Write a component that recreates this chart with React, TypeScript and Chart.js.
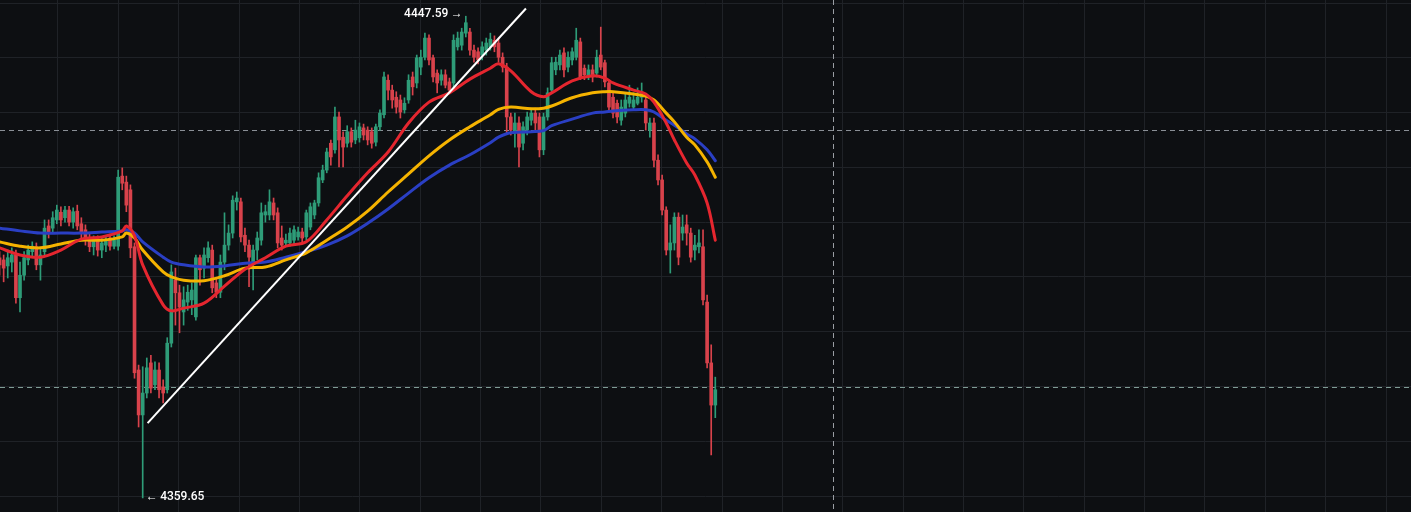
import React, { useEffect, useRef } from "react";
import { Chart, registerables } from "chart.js";

Chart.register(...registerables);

// ---- candle data (index = bar number) ----
const opens = [
  4403.5, 4403.1, 4402.0, 4402.7, 4404.0, 4396.2, 4400.3, 4403.1, 4404.6, 4405.5,
  4402.2, 4404.6, 4409.3, 4408.9, 4410.4, 4411.8, 4410.8, 4412.2, 4410.0, 4412.0,
  4409.7, 4408.6, 4407.1, 4405.5, 4406.7, 4404.9, 4405.8, 4407.1, 4405.6, 4405.6,
  4418.4, 4417.3, 4415.9, 4405.5, 4383.0, 4374.8, 4378.8, 4384.3, 4380.3, 4383.0,
  4379.9, 4379.4, 4387.9, 4399.4, 4397.1, 4393.6, 4395.4, 4395.8, 4392.7, 4403.5,
  4401.6, 4403.5, 4404.9, 4398.9, 4397.2, 4402.7, 4405.8, 4408.0, 4413.7, 4413.7,
  4407.6, 4405.8, 4402.7, 4404.9, 4406.7, 4411.3, 4411.3, 4413.5, 4411.7, 4407.1,
  4406.2, 4406.2, 4406.7, 4407.3, 4408.2, 4407.3, 4409.1, 4411.3, 4413.5, 4417.7,
  4419.5, 4424.4, 4423.2, 4429.2, 4425.5, 4424.4, 4426.5, 4425.0, 4425.4, 4427.2,
  4426.8, 4426.5, 4424.6, 4427.4, 4429.6, 4435.9, 4434.1, 4432.8, 4432.3, 4430.5,
  4432.3, 4436.5, 4435.4, 4438.3, 4440.1, 4443.6, 4440.0, 4437.2, 4435.9, 4436.9,
  4435.6, 4435.4, 4442.0, 4442.3, 4444.5, 4444.7, 4441.4, 4441.1, 4440.5, 4441.4,
  4442.0, 4443.2, 4442.7, 4440.1, 4438.3, 4429.2, 4426.3, 4428.1, 4424.4, 4426.8,
  4428.6, 4429.9, 4429.2, 4423.2, 4429.2, 4434.1, 4437.8, 4438.7, 4440.9, 4438.3,
  4439.6, 4440.1, 4442.9, 4438.1, 4436.5, 4437.8, 4437.2, 4440.5, 4439.1, 4435.4,
  4432.8, 4431.7, 4428.6, 4429.9, 4431.7, 4431.0, 4431.7, 4432.8, 4432.3, 4426.8,
  4428.1, 4421.3, 4417.7, 4412.2, 4404.9, 4406.2, 4410.9, 4408.0, 4409.5, 4408.0,
  4404.9, 4405.5, 4405.5, 4395.4, 4384.3, 4376.6,
];
const highs = [
  4404.6, 4404.0, 4404.9, 4405.3, 4404.9, 4402.7, 4404.6, 4405.8, 4406.4, 4406.2,
  4405.3, 4410.4, 4410.4, 4411.9, 4413.1, 4412.8, 4412.9, 4412.9, 4412.6, 4413.1,
  4410.8, 4409.5, 4407.8, 4407.5, 4407.5, 4407.1, 4407.5, 4407.8, 4407.5, 4419.5,
  4419.9, 4418.4, 4416.8, 4406.2, 4383.9, 4383.6, 4385.2, 4385.7, 4384.5, 4384.3,
  4381.2, 4388.9, 4402.2, 4401.6, 4398.5, 4398.2, 4398.5, 4398.9, 4404.0, 4404.0,
  4405.3, 4406.4, 4405.8, 4399.8, 4404.0, 4411.7, 4409.5, 4414.8, 4415.5, 4414.4,
  4408.9, 4406.7, 4405.8, 4408.2, 4413.5, 4413.1, 4415.9, 4414.4, 4412.6, 4409.3,
  4407.8, 4408.9, 4409.3, 4409.1, 4408.9, 4412.2, 4413.5, 4414.0, 4419.0, 4420.4,
  4423.5, 4425.0, 4431.0, 4430.1, 4426.5, 4427.6, 4427.2, 4428.6, 4428.1, 4427.9,
  4427.4, 4427.2, 4427.9, 4430.5, 4437.4, 4436.9, 4435.0, 4433.8, 4433.2, 4432.7,
  4436.9, 4437.4, 4440.5, 4441.4, 4444.5, 4444.2, 4440.5, 4437.8, 4437.8, 4437.8,
  4436.3, 4444.2, 4444.7, 4445.4, 4447.59, 4445.4, 4442.3, 4441.8, 4442.9, 4443.6,
  4444.5, 4444.0, 4443.6, 4440.9, 4439.0, 4429.9, 4429.9, 4429.2, 4428.3, 4430.1,
  4430.8, 4430.8, 4429.9, 4429.9, 4434.5, 4440.1, 4440.1, 4441.4, 4441.8, 4441.1,
  4441.8, 4445.4, 4443.6, 4438.7, 4438.7, 4438.7, 4441.4, 4445.6, 4439.6, 4435.9,
  4433.6, 4432.3, 4432.3, 4433.6, 4435.0, 4433.6, 4434.5, 4435.4, 4433.2, 4429.0,
  4429.0, 4422.3, 4418.6, 4412.8, 4409.5, 4411.7, 4411.7, 4411.3, 4411.3, 4408.9,
  4407.6, 4408.6, 4408.6, 4396.7, 4387.6, 4381.7,
];
const lows = [
  4400.3, 4399.1, 4399.8, 4400.9, 4395.2, 4393.6, 4399.4, 4402.2, 4403.5, 4401.3,
  4399.4, 4404.0, 4407.1, 4408.2, 4409.7, 4409.3, 4410.0, 4409.3, 4408.9, 4408.6,
  4407.1, 4405.8, 4404.6, 4404.0, 4403.8, 4403.5, 4404.6, 4404.9, 4405.1, 4404.9,
  4415.9, 4411.9, 4403.5, 4381.5, 4372.6, 4359.65, 4377.9, 4378.8, 4379.4, 4377.9,
  4377.0, 4378.8, 4387.2, 4391.2, 4389.8, 4391.2, 4393.9, 4393.1, 4392.1, 4398.5,
  4399.8, 4402.7, 4397.1, 4396.2, 4396.2, 4401.3, 4404.9, 4407.1, 4412.2, 4406.4,
  4404.6, 4398.2, 4397.6, 4403.1, 4405.8, 4410.0, 4410.4, 4410.4, 4405.3, 4404.9,
  4405.5, 4405.6, 4406.0, 4406.7, 4406.4, 4406.7, 4408.6, 4410.6, 4412.9, 4417.2,
  4419.0, 4420.4, 4422.6, 4420.1, 4420.1, 4423.7, 4423.7, 4424.3, 4424.6, 4425.0,
  4424.1, 4423.5, 4423.9, 4426.8, 4429.0, 4432.3, 4430.8, 4429.9, 4429.0, 4429.9,
  4431.7, 4433.2, 4434.5, 4436.9, 4439.6, 4438.7, 4435.6, 4433.6, 4435.0, 4434.5,
  4433.6, 4434.7, 4441.4, 4441.4, 4443.8, 4440.5, 4439.2, 4438.9, 4439.6, 4440.5,
  4441.4, 4441.1, 4439.2, 4437.4, 4426.3, 4425.9, 4423.7, 4420.1, 4423.2, 4425.9,
  4427.7, 4426.8, 4421.9, 4422.3, 4428.6, 4433.6, 4436.9, 4437.8, 4436.5, 4437.4,
  4438.7, 4439.6, 4436.0, 4436.0, 4436.0, 4435.6, 4436.5, 4437.8, 4434.7, 4430.1,
  4429.0, 4428.1, 4427.7, 4429.2, 4431.0, 4430.5, 4431.4, 4431.9, 4426.8, 4425.5,
  4420.1, 4416.8, 4411.3, 4404.0, 4400.7, 4404.9, 4402.2, 4406.7, 4405.8, 4402.7,
  4403.1, 4404.4, 4394.9, 4383.4, 4367.5, 4374.3,
];
const closes = [
  4402.2, 4401.6, 4403.5, 4404.0, 4396.2, 4400.3, 4403.5, 4404.9, 4405.6, 4402.2,
  4404.0, 4408.9, 4408.2, 4410.8, 4412.2, 4410.4, 4412.2, 4410.0, 4411.9, 4409.3,
  4408.2, 4407.1, 4405.5, 4406.7, 4404.9, 4406.2, 4406.7, 4405.6, 4406.7, 4418.2,
  4417.1, 4413.1, 4405.3, 4382.5, 4374.8, 4378.8, 4383.4, 4379.7, 4383.0, 4379.4,
  4378.8, 4387.9, 4400.9, 4397.1, 4394.5, 4395.8, 4397.2, 4397.6, 4403.5, 4401.3,
  4404.0, 4405.3, 4398.0, 4397.2, 4402.7, 4405.8, 4408.0, 4414.0, 4414.4, 4407.3,
  4405.8, 4403.6, 4404.9, 4407.1, 4411.7, 4411.9, 4413.7, 4411.3, 4406.2, 4405.8,
  4406.7, 4408.0, 4408.6, 4408.2, 4407.1, 4411.7, 4412.8, 4413.5, 4418.1, 4419.5,
  4422.8, 4421.9, 4429.2, 4425.0, 4423.7, 4426.5, 4424.6, 4426.8, 4427.4, 4425.9,
  4425.0, 4424.4, 4427.4, 4429.9, 4436.5, 4434.1, 4432.3, 4431.0, 4430.1, 4431.7,
  4435.9, 4434.7, 4440.0, 4440.1, 4443.6, 4439.6, 4436.5, 4435.4, 4436.9, 4435.0,
  4434.1, 4443.2, 4443.6, 4444.7, 4446.4, 4441.4, 4440.1, 4439.6, 4442.0, 4442.7,
  4443.4, 4442.0, 4440.1, 4438.3, 4429.2, 4426.8, 4428.1, 4423.7, 4427.4, 4429.2,
  4429.9, 4428.1, 4423.2, 4429.2, 4433.6, 4439.1, 4439.2, 4440.5, 4437.8, 4440.1,
  4441.1, 4443.2, 4436.5, 4436.9, 4437.8, 4436.5, 4440.1, 4438.3, 4435.6, 4431.0,
  4429.9, 4429.2, 4431.0, 4432.3, 4432.8, 4432.3, 4432.8, 4433.6, 4428.1, 4428.1,
  4421.3, 4417.7, 4412.2, 4404.9, 4406.2, 4410.9, 4403.6, 4409.1, 4408.0, 4403.6,
  4405.8, 4406.2, 4395.8, 4384.3, 4376.6, 4379.4,
];

// ---- moving averages (sampled at bar numbers) ----
const maBars = [
  0, 5, 10, 15, 20, 25, 30, 31, 33, 35, 40, 42, 45, 50, 55, 60, 65, 70, 75, 80,
  85, 90, 95, 100, 105, 110, 115, 120, 122, 125, 130, 133, 135, 140, 145, 148, 150, 155, 158, 160,
  163, 165, 168, 170, 173, 175,
];
const maFast = [
  4405.3, 4404.0, 4403.6, 4404.9, 4406.9, 4407.3, 4408.4, 4409.3, 4407.5, 4402.2,
  4394.9, 4393.8, 4394.3, 4395.2, 4398.3, 4401.4, 4403.5, 4405.6, 4406.4, 4410.4,
  4414.8, 4419.0, 4422.8, 4428.1, 4431.9, 4433.6, 4436.1, 4438.1, 4438.9, 4437.6,
  4433.8, 4432.9, 4433.6, 4435.8, 4436.7, 4436.3, 4435.4, 4434.1, 4433.4, 4431.9,
  4428.1, 4425.0, 4420.8, 4418.6, 4413.5, 4406.7,
];
const maMid = [
  4406.4, 4405.6, 4405.3, 4406.0, 4406.7, 4406.7, 4407.3, 4408.0, 4407.1, 4404.9,
  4400.9, 4400.0, 4399.4, 4399.3, 4400.2, 4401.6, 4401.8, 4403.1, 4404.4, 4406.7,
  4409.1, 4412.0, 4415.5, 4418.8, 4422.1, 4425.0, 4427.4, 4429.6, 4430.6, 4431.0,
  4430.7, 4430.8, 4431.2, 4432.7, 4433.6, 4433.8, 4433.8, 4433.4, 4433.0, 4432.3,
  4429.9, 4428.3, 4425.5, 4424.1, 4421.0, 4418.2,
];
const maSlow = [
  4408.9, 4408.4, 4408.0, 4408.0, 4408.0, 4408.2, 4408.4, 4408.6, 4408.0, 4406.4,
  4403.6, 4402.7, 4402.2, 4401.8, 4402.0, 4402.5, 4402.7, 4403.6, 4404.6, 4405.8,
  4407.5, 4409.8, 4412.4, 4415.3, 4418.1, 4420.4, 4422.3, 4424.5, 4425.5, 4426.3,
  4426.5, 4426.7, 4427.6, 4428.8, 4429.9, 4430.1, 4430.3, 4430.5, 4430.5, 4430.1,
  4428.6, 4427.7, 4426.1, 4425.2, 4423.2, 4421.2,
];

// ---- drawn trend line ----
const trendBars = [36.2, 128.7];
const trendPrices = [4373.3, 4449.0];

// ---- annotations / levels ----
const highLabel = "4447.59";
const lowLabel = "4359.65";
const levelPrices = [4426.8, 4379.9];
const markerBar = 203.8;
const priceGrid = [4360, 4370, 4380, 4390, 4400, 4410, 4420, 4430, 4440, 4450];
const timeGrid = [
  -0.47, 14.29, 29.05, 43.81, 58.57, 73.33, 88.09, 102.85, 117.61, 132.37, 147.13, 161.89,
  176.65, 191.41, 206.17, 220.93, 235.69, 250.45, 265.21, 279.97, 294.73, 309.49, 324.25,
  339.01, 353.77,
];

const X_MIN = 0.11;
const X_MAX = 345.1;
const Y_MIN = 4357.08;
const Y_MAX = 4450.55;

const BG = "#0d0f12";
const GRID = "#1f2227";
const UP = "#2e9c78";
const DOWN = "#d8424b";

export default function App() {
  const ref = useRef<HTMLCanvasElement | null>(null);

  useEffect(() => {
    const canvas = ref.current;
    if (!canvas) return;

    const isUp = opens.map((o, i) => closes[i] >= o);
    const colors = isUp.map((u) => (u ? UP : DOWN));

    const hiIdx = highs.indexOf(Math.max(...highs));
    const loIdx = lows.indexOf(Math.min(...lows));

    const overlay = {
      id: "overlay",
      beforeDraw(chart: any) {
        const { ctx, width, height } = chart;
        ctx.save();
        ctx.fillStyle = BG;
        ctx.fillRect(0, 0, width, height);
        ctx.restore();
      },
      beforeDatasetsDraw(chart: any) {
        const { ctx, chartArea } = chart;
        const xs = chart.scales.x;
        const ys = chart.scales.y;
        ctx.save();
        ctx.lineWidth = 1;
        ctx.setLineDash([5, 4]);
        levelPrices.forEach((p, k) => {
          const y = Math.round(ys.getPixelForValue(p)) + 0.5;
          ctx.strokeStyle = k === 0 ? "#8a8f96" : "#7f9c95";
          ctx.beginPath();
          ctx.moveTo(chartArea.left, y);
          ctx.lineTo(chartArea.right, y);
          ctx.stroke();
        });
        const vx = Math.round(xs.getPixelForValue(markerBar)) + 0.5;
        ctx.strokeStyle = "#9a9ea4";
        ctx.beginPath();
        ctx.moveTo(vx, chartArea.top);
        ctx.lineTo(vx, chartArea.bottom);
        ctx.stroke();
        ctx.restore();
      },
      afterDatasetsDraw(chart: any) {
        const { ctx } = chart;
        const xs = chart.scales.x;
        const ys = chart.scales.y;
        ctx.save();
        ctx.fillStyle = "#ffffff";
        ctx.font = "500 12px Roboto, 'Noto Sans', sans-serif";
        ctx.textBaseline = "middle";
        ctx.textAlign = "right";
        ctx.fillText(
          highLabel + "\u2009\u2192",
          xs.getPixelForValue(hiIdx) - 3,
          ys.getPixelForValue(highs[hiIdx]) - 2
        );
        ctx.textAlign = "left";
        ctx.fillText(
          "\u2190\u2009" + lowLabel,
          xs.getPixelForValue(loIdx) + 3,
          ys.getPixelForValue(lows[loIdx]) - 1
        );
        ctx.restore();
      },
    };

    const maLine = (vals: number[], color: string, order: number) => ({
      type: "line" as const,
      data: maBars.map((b, i) => ({ x: b, y: vals[i] })),
      borderColor: color,
      borderWidth: 3,
      pointRadius: 0,
      tension: 0.35,
      borderCapStyle: "round" as const,
      borderJoinStyle: "round" as const,
      order,
    });

    const chart = new Chart(canvas, {
      type: "bar",
      data: {
        datasets: [
          {
            type: "line",
            data: trendBars.map((b, i) => ({ x: b, y: trendPrices[i] })),
            borderColor: "#ffffff",
            borderWidth: 2,
            pointRadius: 0,
            order: 0,
          } as any,
          maLine(maSlow, "#2a3fc4", 3) as any,
          maLine(maMid, "#f5b300", 2) as any,
          maLine(maFast, "#e5262f", 1) as any,
          {
            type: "bar",
            data: opens.map((o, i) => ({ x: i, y: [o, closes[i]] })),
            backgroundColor: colors,
            borderWidth: 0,
            barThickness: 3,
            minBarLength: 1,
            grouped: false,
            order: 5,
          } as any,
          {
            type: "bar",
            data: lows.map((l, i) => ({ x: i, y: [l, highs[i]] })),
            backgroundColor: colors,
            borderWidth: 0,
            barThickness: 1,
            grouped: false,
            order: 6,
          } as any,
        ],
      },
      options: {
        responsive: false,
        maintainAspectRatio: false,
        devicePixelRatio: 1,
        animation: false,
        events: [],
        layout: { padding: 0 },
        plugins: { legend: { display: false }, tooltip: { enabled: false } },
        scales: {
          x: {
            type: "linear",
            min: X_MIN,
            max: X_MAX,
            offset: false,
            ticks: { display: false },
            grid: { color: GRID, drawTicks: false, lineWidth: 1, offset: false },
            border: { display: false },
            afterBuildTicks: (s: any) => {
              s.ticks = timeGrid.map((v) => ({ value: v }));
            },
          },
          y: {
            type: "linear",
            min: Y_MIN,
            max: Y_MAX,
            ticks: { display: false },
            grid: { color: GRID, drawTicks: false, lineWidth: 1 },
            border: { display: false },
            afterBuildTicks: (s: any) => {
              s.ticks = priceGrid.map((v) => ({ value: v }));
            },
          },
        },
      } as any,
      plugins: [overlay],
    });

    return () => chart.destroy();
  }, []);

  return (
    <div
      style={{
        position: "fixed",
        left: 0,
        top: 0,
        width: 1411,
        height: 512,
        background: BG,
      }}
    >
      <canvas ref={ref} width={1411} height={512} style={{ display: "block" }} />
    </div>
  );
}
